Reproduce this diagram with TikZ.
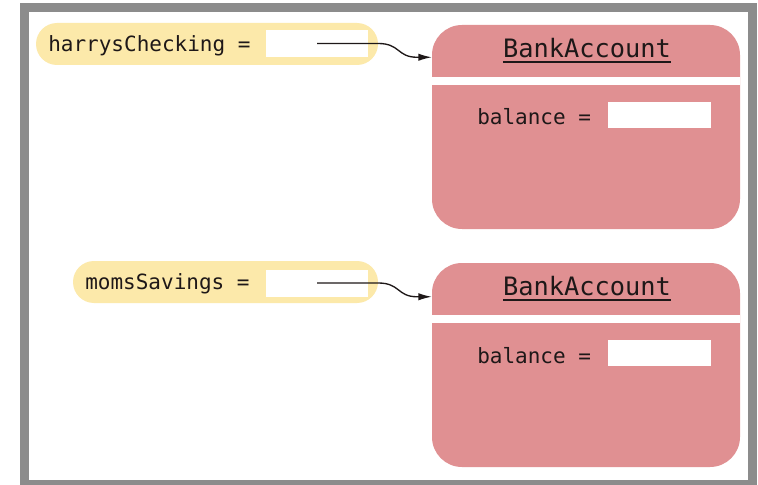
\documentclass[tikz,border=0pt]{standalone}
\usepackage{fontspec}
\setmonofont{DejaVu Sans Mono}
\usetikzlibrary{arrows.meta}
\definecolor{framegray}{RGB}{140,140,140}
\definecolor{pillyellow}{RGB}{252,233,170}
\definecolor{objpink}{RGB}{224,144,146}
\definecolor{inkblack}{RGB}{30,24,24}
\tikzset{
  pill/.style={rectangle, rounded corners=15.75pt, fill=pillyellow, minimum height=31.5pt, inner sep=0pt},
  slot/.style={rectangle, fill=white, inner sep=0pt, minimum width=76.5pt, minimum height=20.25pt},
  varname/.style={anchor=base west, inner sep=0pt, text=inkblack, font=\fontsize{15.75pt}{18pt}\ttfamily},
  object/.style={rectangle, rounded corners=22.5pt, fill=objpink, minimum width=231pt, minimum height=153pt, inner sep=0pt},
  classname/.style={anchor=base, inner sep=0pt, text=inkblack, font=\fontsize{19pt}{22pt}\ttfamily},
  ref/.style={draw=inkblack, line width=1pt, -{Latex[length=10pt,width=5.5pt]}}
}
\begin{document}
\begin{tikzpicture}[x=0.75pt,y=-0.75pt]
  \useasboundingbox (0,0) rectangle (758,485);
  \fill[white] (0,0) rectangle (758,485);
  \draw[framegray, line width=6.75pt] (24.5,7.5) rectangle (752.5,484.5);

  % first variable and its object
  \node[pill, minimum width=256.5pt] (pill1) at (207,44) {};
  \node[slot] (slot1) at (317,43.5) {};
  \node[varname] (name1) at (48,52) {harrysChecking =};
  \node[object] (acct1) at (586,127) {};
  \draw[white, line width=6pt] (acct1.west |- 0,81) -- (acct1.east |- 0,81);
  \node[classname] (title1) at (587,58) {BankAccount};
  \draw[inkblack, line width=1.2pt] ([yshift=-3.2pt]title1.base west) -- ([yshift=-3.2pt]title1.base east);
  \node[varname] (field1) at (477,125) {balance =};
  \node[slot, minimum width=77.25pt, minimum height=19.5pt] (value1) at (659.5,115) {};
  \coordinate (tip1) at (acct1.west |- slot1.south);
  \draw[ref] (slot1.center) -- (pill1.east |- slot1.center)
    .. controls +(22,0) and +(-20,0) .. ([xshift=-11pt]tip1) -- (tip1);

  % second variable and its object
  \node[pill, minimum width=228.75pt] (pill2) at (225.5,282) {};
  \node[slot] (slot2) at (317,283) {};
  \node[varname] (name2) at (85,289) {momsSavings =};
  \node[object] (acct2) at (586,365) {};
  \draw[white, line width=6pt] (acct2.west |- 0,319) -- (acct2.east |- 0,319);
  \node[classname] (title2) at (587,296) {BankAccount};
  \draw[inkblack, line width=1.2pt] ([yshift=-3.2pt]title2.base west) -- ([yshift=-3.2pt]title2.base east);
  \node[varname] (field2) at (477,363) {balance =};
  \node[slot, minimum width=77.25pt, minimum height=19.5pt] (value2) at (659.5,353) {};
  \coordinate (tip2) at (acct2.west |- slot2.south);
  \draw[ref] (slot2.center) -- (pill2.east |- slot2.center)
    .. controls +(22,0) and +(-20,0) .. ([xshift=-11pt]tip2) -- (tip2);
\end{tikzpicture}
\end{document}
